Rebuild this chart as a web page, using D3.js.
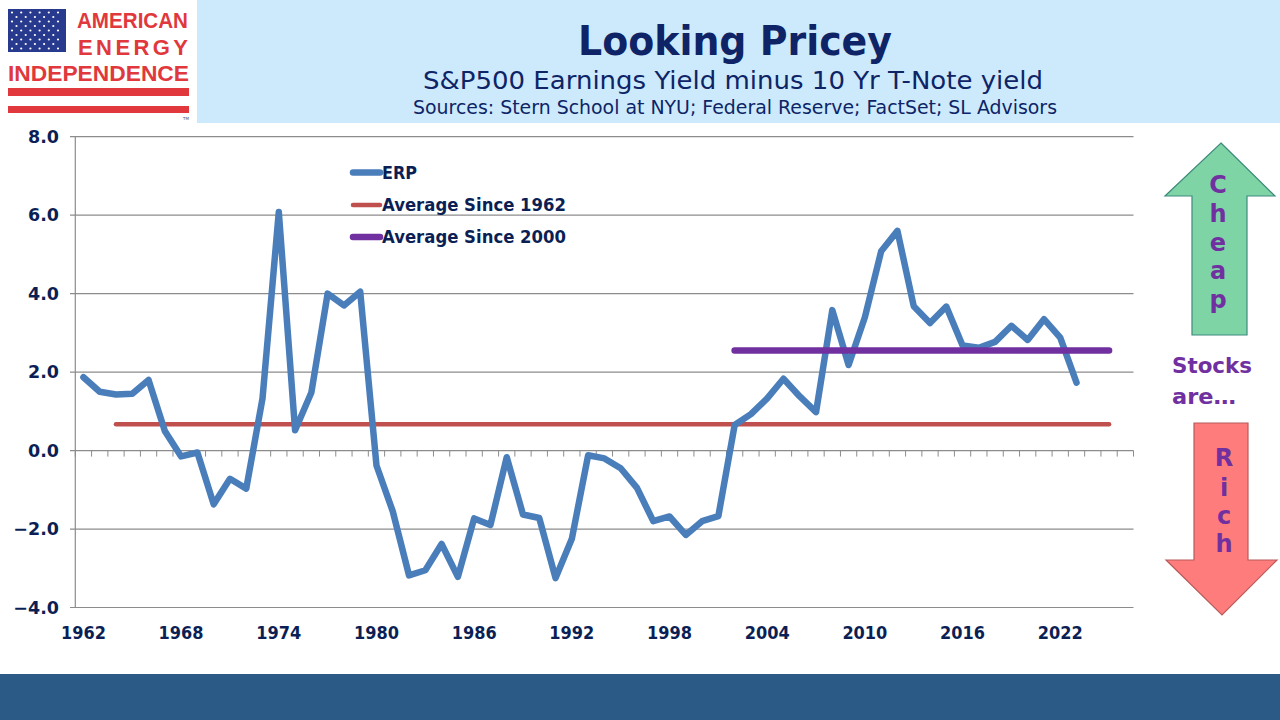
<!DOCTYPE html>
<html><head><meta charset="utf-8">
<script src="https://cdn.jsdelivr.net/npm/d3@7/dist/d3.min.js"></script>
<style>body{margin:0;background:#fff;}svg{display:block}</style>
</head><body>
<svg id="c" width="1280" height="720"></svg>
<script>
// ---- data ----
const categories = [1962,1963,1964,1965,1966,1967,1968,1969,1970,1971,1972,1973,1974,1975,1976,1977,1978,1979,
  1980,1981,1982,1983,1984,1985,1986,1987,1988,1989,1990,1991,1992,1993,1994,1995,1996,1997,1998,1999,
  2000,2001,2002,2003,2004,2005,2006,2007,2008,2009,2010,2011,2012,2013,2014,2015,2016,2017,2018,2019,
  2020,2021,2022,2023,2024,2025,2026];
const erpYears = [1962,1963,1964,1965,1966,1967,1968,1969,1970,1971,1972,1973,1974,1975,1976,1977,1978,1979,
  1980,1981,1982,1983,1984,1985,1986,1987,1988,1989,1990,1991,1992,1993,1994,1995,1996,1997,1998,1999,
  2000,2001,2002,2003,2004,2005,2006,2007,2008,2009,2010,2011,2012,2013,2014,2015,2016,2017,2018,2019,
  2020,2021,2022,2023];
const erpValues = [1.87,1.50,1.43,1.45,1.80,0.50,-0.15,-0.05,-1.37,-0.72,-0.97,1.33,6.08,0.52,1.48,4.00,3.70,4.05,
  -0.38,-1.55,-3.18,-3.05,-2.38,-3.22,-1.73,-1.90,-0.17,-1.63,-1.72,-3.25,-2.25,-0.12,-0.20,-0.45,-0.95,-1.80,-1.68,-2.15,
  -1.80,-1.67,0.65,0.93,1.33,1.83,1.38,0.98,3.58,2.18,3.40,5.08,5.60,3.68,3.25,3.67,2.68,2.62,2.77,3.18,
  2.82,3.35,2.88,1.73];
const avg1962Years = [1964, 2025];
const avg1962Value = 0.67;
const avg2000Years = [2002, 2025];
const avg2000Value = 2.55;
const yTicks = [-4,-2,0,2,4,6,8];
const xTickLabels = [1962,1968,1974,1980,1986,1992,1998,2004,2010,2016,2022];
const seriesNames = ["ERP","Average Since 1962","Average Since 2000"];
const seriesColors = ["#4a7ebb","#c0504d","#7030a0"];

const svg = d3.select("#c");
const navy = "#0c1f55";
const FONT = "DejaVu Sans, Verdana, sans-serif";

// ---- header ----
svg.append("rect").attr("x",197).attr("y",0).attr("width",1083).attr("height",123).attr("fill","#cdeafc");
svg.append("text").attr("x",735).attr("y",55).attr("text-anchor","middle")
  .attr("font-family",FONT).attr("font-weight","bold").attr("font-size",41)
  .attr("fill","#0e2466").attr("textLength",314).attr("lengthAdjust","spacingAndGlyphs").text("Looking Pricey");
svg.append("text").attr("x",733).attr("y",89).attr("text-anchor","middle")
  .attr("font-family",FONT).attr("font-size",25)
  .attr("fill","#0e2466").attr("textLength",620).attr("lengthAdjust","spacingAndGlyphs").text("S&P500 Earnings Yield minus 10 Yr T-Note yield");
svg.append("text").attr("x",735).attr("y",114).attr("text-anchor","middle")
  .attr("font-family",FONT).attr("font-size",19)
  .attr("fill","#0e2466").attr("textLength",644).attr("lengthAdjust","spacingAndGlyphs").text("Sources: Stern School at NYU; Federal Reserve; FactSet; SL Advisors");

// ---- logo ----
const logo = svg.append("g");
logo.append("rect").attr("x",8).attr("y",9).attr("width",58).attr("height",43).attr("fill","#283a8e");
for (let r=0;r<9;r++){
  const n = r%2===0?6:5;
  for (let c=0;c<n;c++){
    logo.append("circle").attr("cx",12+ (r%2===0?0:4.5) + c*9.2).attr("cy",12.5+r*4.5).attr("r",1.1).attr("fill","#fff");
  }
}
const LF = "Liberation Sans, Arial, sans-serif";
logo.append("text").attr("x",77).attr("y",28).attr("font-family",LF).attr("font-weight","bold")
  .attr("font-size",22).attr("fill","#e0383d").attr("textLength",111).attr("lengthAdjust","spacingAndGlyphs").text("AMERICAN");
logo.append("text").attr("x",78).attr("y",55).attr("font-family",LF).attr("font-weight","bold")
  .attr("font-size",22).attr("fill","#e0383d").attr("textLength",110).attr("lengthAdjust","spacing").text("ENERGY");
logo.append("text").attr("x",8).attr("y",81).attr("font-family",LF).attr("font-weight","bold")
  .attr("font-size",22).attr("fill","#e0383d").attr("textLength",181).attr("lengthAdjust","spacingAndGlyphs").text("INDEPENDENCE");
logo.append("rect").attr("x",8).attr("y",88).attr("width",181).attr("height",8).attr("fill","#e0383d");
logo.append("rect").attr("x",8).attr("y",106).attr("width",181).attr("height",7).attr("fill","#e0383d");
logo.append("text").attr("x",183).attr("y",120).attr("font-size",4).attr("fill","#555").attr("font-family","DejaVu Sans").text("TM");

// ---- chart ----
const x = d3.scaleBand().domain(categories).range([75.3, 1133.5]).padding(0);
const cx = d => x(d) + x.bandwidth()/2;
const y = d3.scaleLinear().domain([-4, 8]).range([607.5, 136.7]);

const g = svg.append("g");
g.selectAll(".grid").data(yTicks).join("line")
  .attr("x1",70).attr("x2",1133.5).attr("y1",d=>y(d)).attr("y2",d=>y(d))
  .attr("stroke","#8c8c8c").attr("stroke-width",1.2);
g.append("line").attr("x1",75.3).attr("x2",75.3).attr("y1",y(8)).attr("y2",y(-4)).attr("stroke","#8c8c8c").attr("stroke-width",1.2);
const bounds = categories.map(c=>x(c)).concat([x(categories[categories.length-1])+x.bandwidth()]);
g.selectAll(".xt").data(bounds).join("line")
  .attr("x1",d=>d).attr("x2",d=>d).attr("y1",y(0)).attr("y2",y(0)+6)
  .attr("stroke","#8c8c8c").attr("stroke-width",1);

g.selectAll(".yl").data(yTicks).join("text")
  .attr("x",59).attr("y",d=>y(d)).attr("dy","0.36em").attr("text-anchor","end")
  .attr("font-family",FONT).attr("font-weight","bold").attr("font-size",17.5)
  .attr("fill",navy).text(d=>d3.format(".1f")(d));
g.selectAll(".xl").data(xTickLabels).join("text")
  .attr("x",d=>cx(d)).attr("y",639).attr("text-anchor","middle")
  .attr("font-family",FONT).attr("font-weight","bold").attr("font-size",17.5)
  .attr("fill",navy).attr("textLength",45).attr("lengthAdjust","spacingAndGlyphs").text(d=>d);

g.append("line").attr("x1",cx(avg1962Years[0])).attr("x2",cx(avg1962Years[1]))
  .attr("y1",y(avg1962Value)).attr("y2",y(avg1962Value))
  .attr("stroke",seriesColors[1]).attr("stroke-width",4.5).attr("stroke-linecap","round");
const line = d3.line().x((d,i)=>cx(erpYears[i])).y(d=>y(d));
g.append("path").datum(erpValues).attr("d",line).attr("fill","none")
  .attr("stroke",seriesColors[0]).attr("stroke-width",6.5).attr("stroke-linejoin","round").attr("stroke-linecap","round");
g.append("line").attr("x1",cx(avg2000Years[0])).attr("x2",cx(avg2000Years[1]))
  .attr("y1",y(avg2000Value)).attr("y2",y(avg2000Value))
  .attr("stroke",seriesColors[2]).attr("stroke-width",6.5).attr("stroke-linecap","round");

// legend
const lg = g.append("g");
const legY = [172.5, 205, 237];
const legW = [6.5, 4.5, 6.5];
const legLen = [35, 184, 184];
seriesNames.forEach((n,i)=>{
  lg.append("line").attr("x1",353).attr("x2",380).attr("y1",legY[i]).attr("y2",legY[i])
    .attr("stroke",seriesColors[i]).attr("stroke-width",legW[i]).attr("stroke-linecap","round");
  lg.append("text").attr("x",382).attr("y",legY[i]).attr("dy","0.36em")
    .attr("font-family",FONT).attr("font-weight","bold").attr("font-size",18)
    .attr("fill",navy).attr("textLength",legLen[i]).attr("lengthAdjust","spacingAndGlyphs").text(n);
});

// ---- arrows annotation ----
const up = [[1221,143],[1275,196],[1247,196],[1247,335],[1192,335],[1192,196],[1165,196]];
const down = [[1194,423],[1248,423],[1248,560],[1277,560],[1222,615],[1166,560],[1194,560]];
svg.append("polygon").attr("points",up.map(p=>p.join(",")).join(" ")).attr("fill","#7fd4a6").attr("stroke","#3d8a7c").attr("stroke-width",1.2);
svg.append("polygon").attr("points",down.map(p=>p.join(",")).join(" ")).attr("fill","#ff7c7c").attr("stroke","#b85a5a").attr("stroke-width",1.2);
const purple = "#7030a0";
const cheap = ["C","h","e","a","p"], cheapY = [184,213,242,270,299];
cheap.forEach((c,i)=>svg.append("text").attr("x",1218).attr("y",cheapY[i]).attr("dy","0.36em").attr("text-anchor","middle")
  .attr("font-family",FONT).attr("font-weight","bold").attr("font-size",24).attr("fill",purple).text(c));
const rich = ["R","i","c","h"], richY = [457,487,515,543];
rich.forEach((c,i)=>svg.append("text").attr("x",1224).attr("y",richY[i]).attr("dy","0.36em").attr("text-anchor","middle")
  .attr("font-family",FONT).attr("font-weight","bold").attr("font-size",24).attr("fill",purple).text(c));
svg.append("text").attr("x",1212).attr("y",365).attr("dy","0.36em").attr("text-anchor","middle")
  .attr("font-family",FONT).attr("font-weight","bold").attr("font-size",22).attr("fill",purple)
  .attr("textLength",80).attr("lengthAdjust","spacingAndGlyphs").text("Stocks");
svg.append("text").attr("x",1172).attr("y",396).attr("dy","0.36em")
  .attr("font-family",FONT).attr("font-weight","bold").attr("font-size",22).attr("fill",purple)
  .attr("textLength",64).attr("lengthAdjust","spacingAndGlyphs").text("are…");

svg.append("rect").attr("x",0).attr("y",674).attr("width",1280).attr("height",46).attr("fill","#2b5a87");
</script>
</body></html>
